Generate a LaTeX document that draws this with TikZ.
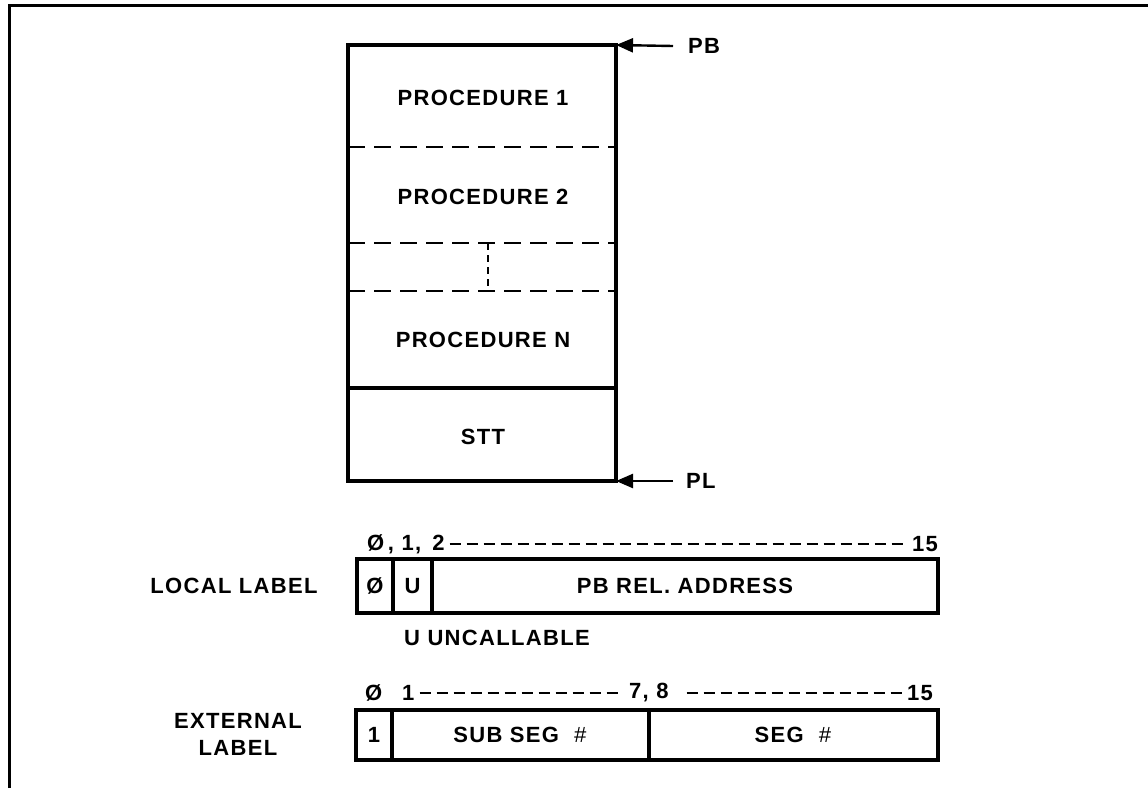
\documentclass[tikz,border=0pt]{standalone}
\usepackage{fontspec}
\setmainfont{Liberation Sans}[LetterSpace=6]
\usetikzlibrary{arrows.meta}
\begin{document}
\begin{tikzpicture}[x=1pt,y=-1pt,
  lbl/.style={font=\bfseries\fontsize{22}{27}\selectfont, inner sep=0pt},
  boxline/.style={line width=3.2pt},
  bigdash/.style={line width=2.8pt, dash pattern=on 17pt off 9pt},
  smalldash/.style={line width=2pt, dash pattern=on 7pt off 5pt},
  numdash/.style={line width=2.4pt, dash pattern=on 11pt off 6pt},
  ptr/.style={line width=2.4pt, -{Triangle[length=17pt,width=14pt]}},
  cell/.style={draw, boxline, inner sep=0pt, outer sep=0pt, anchor=north west}]
\useasboundingbox (0,0) rectangle (1148,788);
% frame
\draw[line width=3pt] (9,788) -- (9,5) -- (1148,5);

% memory stack
\node[draw, boxline, inner sep=0pt, outer sep=0pt, minimum width=268pt, minimum height=436pt, anchor=north west] (stack) at (348,45) {};
\draw[bigdash] (stack.west |- 0,147) -- (stack.east |- 0,147);
\draw[bigdash] (stack.west |- 0,243) -- (stack.east |- 0,243);
\draw[bigdash] (stack.west |- 0,291) -- (stack.east |- 0,291);
\draw[smalldash] (488,243) -- (488,291);
\draw[boxline] (stack.west |- 0,388) -- (stack.east |- 0,388);
\node[lbl] (p1) at (483,98) {PROCEDURE 1};
\node[lbl] (p2) at (483,197) {PROCEDURE 2};
\node[lbl] (pn) at (483,340) {PROCEDURE N};
\node[lbl] (stt) at (483,437) {STT};

\node[lbl, anchor=west] (pb) at (688,46) {PB};
\node[lbl, anchor=west] (pl) at (686,481) {PL};
\draw[ptr] ([xshift=-15pt]pb.west) -- (stack.north east);
\draw[ptr] ([xshift=-13pt]pl.west) -- (stack.south east);

% local label
\node[lbl] (ll) at (234,586) {LOCAL LABEL};
\node[cell, minimum width=36pt, minimum height=54pt] (lc0) at (357,559) {};
\node[cell, minimum width=39pt, minimum height=54pt] (lcu) at (lc0.north east) {};
\node[cell, minimum width=506pt, minimum height=54pt] (lca) at (lcu.north east) {};
\node[lbl] at (lc0.center) {Ø};
\node[lbl] at (lcu.center) {U};
\node[lbl] at (lca.center) {PB REL. ADDRESS};
\node[lbl, anchor=west] (lnum) at (367,544) {Ø\,, 1,\, 2};
\node[lbl, anchor=east] (l15) at (938,544) {15};
\draw[numdash] ([xshift=5pt]lnum.east) -- ([xshift=-6pt]l15.west);
\node[lbl, anchor=west] (unc) at (404,638) {U UNCALLABLE};

% external label
\node[lbl, align=center] (el) at (238,734) {EXTERNAL\\LABEL};
\node[cell, minimum width=36pt, minimum height=50pt] (ec1) at (356,710) {};
\node[cell, minimum width=257pt, minimum height=50pt] (ecs) at (ec1.north east) {};
\node[cell, minimum width=289pt, minimum height=50pt] (ecg) at (ecs.north east) {};
\node[lbl] at (ec1.center) {1};
\node[lbl] at (ecs.center) {SUB SEG \ \textit{\mdseries\#}};
\node[lbl] at (ecg.center) {SEG \ \textit{\mdseries\#}};
\node[lbl, anchor=west] (e0) at (365,693) {Ø};
\node[lbl, anchor=west] (e1) at (402,693) {1};
\node[lbl, anchor=west] (e78) at (629,693) {7, 8};
\node[lbl, anchor=east] (e15) at (933,693) {15};
\draw[numdash] ([xshift=5pt]e1.east) -- ([xshift=-8pt]e78.west);
\draw[numdash] ([xshift=18pt]e78.east) -- (e15.west);
\end{tikzpicture}
\end{document}
